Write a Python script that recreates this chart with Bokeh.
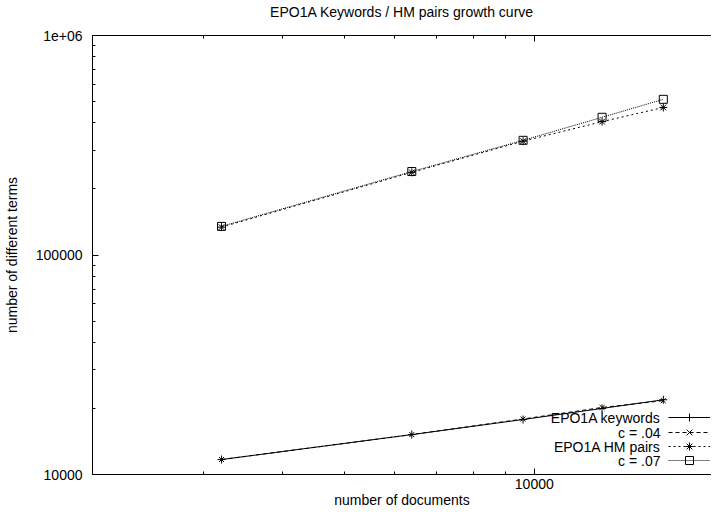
from bokeh.plotting import figure
from bokeh.models import FixedTicker, LogAxis, Legend, LegendItem, Label, Range1d
from bokeh.core.properties import value
from bokeh.embed import file_html
from bokeh.resources import INLINE

# ---- data ----
docs = [3200, 6400, 9600, 12800, 16000]
epo_keywords = [11700, 15200, 17800, 20000, 21900]
c_04 = [11700, 15200, 17900, 20200, 21700]
epo_hm_pairs = [134000, 238000, 330000, 405000, 470000]
c_07 = [135000, 240000, 333000, 424000, 512000]

series_names = ["EPO1A keywords", "c = .04", "EPO1A HM pairs", "c = .07"]
title_text = "EPO1A Keywords / HM pairs growth curve"
x_title = "number of documents"
y_title = "number of different terms"

x_major = [10000]
x_minor = [2000, 3000, 4000, 5000, 6000, 7000, 8000, 9000, 20000]
x_labels = {10000: "10000"}
y_major = [10000, 100000, 1000000]
y_minor = [20000, 30000, 40000, 50000, 60000, 70000, 80000, 90000,
           200000, 300000, 400000, 500000, 600000, 700000, 800000, 900000]
y_labels = {10000: "10000", 100000: "100000", 1000000: "1e+06"}

FONT = "Liberation Sans"
FS = "14px"

W, H = 711, 511
BL, BR, BT, BB = 89, 0, 34, 37
FW, FH = W - BL - BR, H - BT - BB

p = figure(width=W, height=H, x_axis_type="log", y_axis_type="log",
           x_range=Range1d(2000, 19070), y_range=Range1d(10000, 1000000),
           output_backend="svg", toolbar_location=None,
           min_border_left=BL, min_border_right=BR, min_border_top=BT,
           min_border_bottom=BB)

p.grid.visible = False
p.outline_line_color = None
p.background_fill_color = "white"
p.border_fill_color = "white"

xt = FixedTicker(ticks=x_major, minor_ticks=x_minor)
yt = FixedTicker(ticks=y_major, minor_ticks=y_minor)


def style_axis(ax, ticker, labels, show):
    ax.ticker = ticker
    ax.axis_line_color = "black"
    ax.axis_line_width = 1
    ax.major_tick_in = 6
    ax.major_tick_out = 0
    ax.minor_tick_in = 3
    ax.minor_tick_out = 0
    ax.major_tick_line_color = "black"
    ax.minor_tick_line_color = "black"
    ax.axis_label_text_font = FONT
    ax.axis_label_text_font_size = FS
    ax.axis_label_text_font_style = "normal"
    ax.axis_label_text_color = "black"
    if show:
        ax.major_label_overrides = labels
        ax.major_label_text_font = FONT
        ax.major_label_text_font_size = FS
        ax.major_label_text_color = "black"
    else:
        ax.major_label_overrides = {k: "" for k in labels}
        ax.major_label_text_font_size = "0px"
        ax.major_label_standoff = 0


style_axis(p.xaxis[0], xt, x_labels, True)
style_axis(p.yaxis[0], yt, y_labels, True)
p.xaxis[0].major_label_standoff = 4
p.xaxis[0].axis_label = x_title
p.xaxis[0].axis_label_standoff = 0
p.yaxis[0].major_label_standoff = 10
p.yaxis[0].axis_label = y_title
p.yaxis[0].axis_label_standoff = 13

# top axis: mirrored ticks, carries the chart title
top = LogAxis()
style_axis(top, xt, x_labels, False)
top.axis_label = title_text
top.axis_label_standoff = 16
p.add_layout(top, "above")

# ---- series ----
r1 = p.line(docs, epo_keywords, line_color="black", line_width=1)
m1 = p.scatter(docs, epo_keywords, marker="cross", size=8, line_color="black")
r2 = p.line(docs, c_04, line_color="black", line_width=1, line_dash="4 3")
m2 = p.scatter(docs, c_04, marker="x", size=7, line_color="black")
r3 = p.line(docs, epo_hm_pairs, line_color="black", line_width=1, line_dash="2 3")
m3 = p.scatter(docs, epo_hm_pairs, marker="asterisk", size=8, line_color="black")
r4 = p.line(docs, c_07, line_color="black", line_width=1, line_dash="1 1")
m4 = p.scatter(docs, c_07, marker="square", size=8, line_color="black",
               fill_color=None)

# ---- key: right-aligned text, sample on its right ----
row_y = [57, 42, 28, 14]
for (r, m), name, yy in zip([(r1, m1), (r2, m2), (r3, m3), (r4, m4)],
                            series_names, row_y):
    leg = Legend(items=[LegendItem(label=value(" "), renderers=[r, m])],
                 location=(FW - 46, yy - 10), orientation="vertical",
                 glyph_width=42, glyph_height=20, label_width=0,
                 label_height=20, label_standoff=0,
                 label_text_font_size="1px", spacing=0, padding=0, margin=0,
                 border_line_color=None, background_fill_alpha=0)
    p.add_layout(leg, "center")
    p.add_layout(Label(x=FW - 54, y=yy, x_units="screen", y_units="screen",
                       text=name, text_align="right", text_baseline="middle",
                       text_font=FONT, text_font_size=FS, text_color="black"))

open("out.html", "w").write(file_html(p, INLINE))
